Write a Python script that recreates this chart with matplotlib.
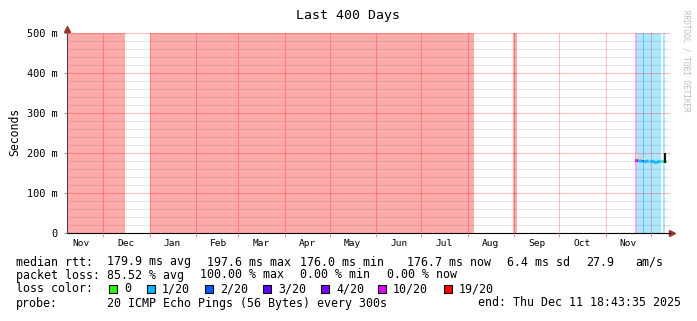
import matplotlib
matplotlib.use("Agg")
import matplotlib.pyplot as plt
import matplotlib.dates as mdates
from matplotlib.patches import Rectangle
from matplotlib.ticker import FuncFormatter, MultipleLocator, NullFormatter
from datetime import datetime, timedelta

# smokeping style graph, 400 days ending Thu Dec 11 18:43:35 2025
start = datetime(2024, 11, 6, 18, 43, 35)
end = datetime(2025, 12, 11, 18, 43, 35)

loss_labels = ["0", "1/20", "2/20", "3/20", "4/20", "10/20", "19/20"]
loss_colors = ["#26ff00", "#00b8ff", "#0059ff", "#5e00ff", "#7e00ff", "#dd00ff", "#ff0000"]

# loss background bands: start, end, loss level index
band_start = ["2024-11-06 18:43", "2025-01-01 00:00", "2025-08-31 00:00",
              "2025-11-20 10:43", "2025-11-21 18:43", "2025-11-25 18:43",
              "2025-12-09 02:43"]
band_end = ["2024-12-15 11:30", "2025-08-05 04:00", "2025-09-02 12:00",
            "2025-11-21 18:43", "2025-12-07 18:43", "2025-11-26 10:43",
            "2025-12-10 10:43"]
band_level = [6, 6, 6, 5, 1, 2, 1]

# median rtt (ms), smoke range (ms) and loss level per day
med_dates = ["2025-11-20 12:00", "2025-11-21 12:00", "2025-11-22 12:00", "2025-11-23 12:00",
             "2025-11-24 12:00", "2025-11-25 12:00", "2025-11-26 12:00", "2025-11-27 12:00",
             "2025-11-28 12:00", "2025-11-29 12:00", "2025-11-30 12:00", "2025-12-01 12:00",
             "2025-12-02 12:00", "2025-12-03 12:00", "2025-12-04 12:00", "2025-12-05 12:00",
             "2025-12-06 12:00", "2025-12-07 12:00", "2025-12-08 12:00", "2025-12-09 12:00",
             "2025-12-10 12:00", "2025-12-11 06:00"]
med_rtt = [182, 181, 180, 181, 180, 179, 180, 180, 179, 180, 180,
           180, 179, 177, 176, 177, 179, 180, 180, 180, 179, 177]
smoke_hi = [196, 200, 199, 197, 194, 190, 186, 184, 183, 183, 182,
            182, 181, 180, 179, 180, 181, 182, 182, 182, 181, 180]
smoke_lo = [178, 177, 177, 177, 177, 176, 177, 177, 176, 177, 177,
            177, 176, 174, 173, 174, 176, 177, 177, 177, 176, 175]
med_loss = [5, 5, 1, 1, 1, 2, 1, 1, 1, 1, 1, 1, 1, 1, 1, 1, 1, 1, 0, 1, 1, 0]
last_date = "2025-12-10 18:00"
last_range = [175, 200]

W, H = 697, 321
mono = "DejaVu Sans Mono"
plt.rcParams["font.family"] = mono

fig = plt.figure(figsize=(W / 100, H / 100), dpi=100)
ax = fig.add_axes([67 / W, 1 - 233 / H, 603 / W, 200 / H])

for s, e, lvl in zip(band_start, band_end, band_level):
    ax.axvspan(datetime.fromisoformat(s), datetime.fromisoformat(e),
               color=loss_colors[lvl], alpha=0.33, lw=0, zorder=1)

d = [datetime.fromisoformat(t) for t in med_dates]
ax.fill_between(d, smoke_lo, smoke_hi, color="#d4d4d4", lw=0, zorder=3)
for i in range(len(d) - 1):
    ax.plot(d[i:i + 2], med_rtt[i:i + 2], color=loss_colors[med_loss[i]],
            lw=2, solid_capstyle="butt", zorder=4)
ax.vlines(datetime.fromisoformat(last_date), last_range[0], last_range[1],
          color="#111111", lw=1.5, zorder=5)

ax.set_xlim(start, end + timedelta(days=2))
ax.set_ylim(0, 500)

ax.xaxis.set_major_locator(mdates.MonthLocator())
ax.xaxis.set_major_formatter(NullFormatter())
ax.xaxis.set_minor_locator(mdates.MonthLocator(bymonthday=16))
ax.xaxis.set_minor_formatter(mdates.DateFormatter("%b"))
ax.tick_params(axis="x", which="major", length=3, color="#e0a0a0", width=0.8)
ax.tick_params(axis="x", which="minor", length=0, pad=4, labelsize=6.8)

ax.yaxis.set_major_locator(MultipleLocator(100))
ax.yaxis.set_minor_locator(MultipleLocator(20))
ax.yaxis.set_major_formatter(FuncFormatter(lambda v, p: "0" if v == 0 else f"{int(v)} m"))
ax.tick_params(axis="y", which="major", length=2, color="#999999", pad=5, labelsize=7.4)
ax.tick_params(axis="y", which="minor", length=0)

ax.set_axisbelow(False)
ax.grid(which="major", axis="both", color="#ff0000", alpha=0.25, lw=0.8)
ax.grid(which="minor", axis="y", color="#808080", alpha=0.22, lw=0.8)

for side in ["top", "right"]:
    ax.spines[side].set_visible(False)
ax.spines["left"].set_color("#444444")
ax.spines["bottom"].set_color("black")
ax.plot([1.003], [0], marker=">", ms=4, color="#a03030", transform=ax.transAxes, clip_on=False)
ax.plot([0], [1.02], marker="^", ms=4, color="#a03030", transform=ax.transAxes, clip_on=False)


def ftext(x, y, s, **kw):
    fig.text(x / W, 1 - y / H, s, va="center", **kw)


ftext(348, 16, "Last 400 Days", ha="center", size=9.5)
ftext(15, 132, "Seconds", ha="center", rotation=90, size=8.3)
ftext(686, 61, "RRDTOOL / TOBI OETIKER", ha="center", rotation=270, size=5.5, color="#bbbbbb")

fs = 8.4
for x, s in [(16, "median rtt:"), (107, "179.9 ms avg"), (207, "197.6 ms max"),
             (300, "176.0 ms min"), (407, "176.7 ms now"), (507, "6.4 ms sd"),
             (586, "27.9"), (635, "am/s")]:
    ftext(x, 262, s, size=fs)
for x, s in [(16, "packet loss:"), (107, "85.52 % avg"), (200, "100.00 % max"),
             (300, "0.00 % min"), (387, "0.00 % now")]:
    ftext(x, 275, s, size=fs)
ftext(16, 289, "loss color:", size=fs)
sq_x = [109, 147, 205, 263, 321, 378, 444]
for x, lab, c in zip(sq_x, loss_labels, loss_colors):
    fig.add_artist(Rectangle((x / W, 1 - 293 / H), 8 / W, 8 / H, facecolor=c,
                             edgecolor="black", lw=0.8, transform=fig.transFigure))
    ftext(x + 15, 289, lab, size=fs)
ftext(16, 303, "probe:", size=fs)
ftext(107, 303, "20 ICMP Echo Pings (56 Bytes) every 300s", size=fs)
ftext(478, 303, "end: Thu Dec 11 18:43:35 2025", size=fs)

fig.savefig("out.png", dpi=100, facecolor="white")
